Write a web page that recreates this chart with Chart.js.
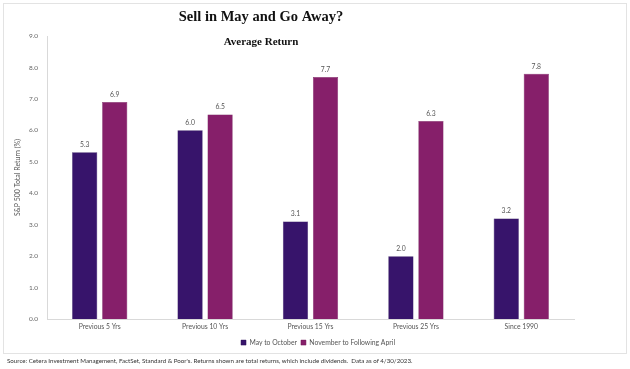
<!DOCTYPE html>
<html>
<head>
<meta charset="utf-8">
<script src="https://cdn.jsdelivr.net/npm/chart.js@4.4.0/dist/chart.umd.min.js"></script>
<style>
  html, body { margin: 0; padding: 0; background: #fff; }
  body { width: 630px; height: 369px; position: relative; overflow: hidden; }
  #frame { position: absolute; left: 3px; top: 3px; width: 622px; height: 349px; border: 1px solid #e3e3e3; }
  #wrap { position: absolute; left: 0; top: 0; width: 630px; height: 358px; }
  #source { position: absolute; left: 7px; top: 357px; font-family: Lato, "Liberation Sans", sans-serif; font-size: 6.2px; color: #333; white-space: nowrap; }
</style>
</head>
<body>
<div id="frame"></div>
<div id="wrap"><canvas id="c" width="630" height="358"></canvas></div>
<div id="source">Source: Cetera Investment Management, FactSet, Standard &amp; Poor's. Returns shown are total returns, which include dividends.&nbsp; Data as of 4/30/2023.</div>
<script>
const categories = ["Previous 5 Yrs", "Previous 10 Yrs", "Previous 15 Yrs", "Previous 25 Yrs", "Since 1990"];
const mayToOctober = [5.3, 6.0, 3.1, 2.0, 3.2];
const novToApril = [6.9, 6.5, 7.7, 6.3, 7.8];
const seriesNames = ["May to October", "November to Following April"];
const yTicks = [0, 1, 2, 3, 4, 5, 6, 7, 8, 9];

const FONT = 'Lato, "Liberation Sans", sans-serif';

const titlePlugin = {
  id: 'titles',
  afterDraw(chart) {
    const ctx = chart.ctx;
    ctx.save();
    ctx.fillStyle = '#111';
    ctx.textAlign = 'center';
    ctx.textBaseline = 'middle';
    ctx.font = 'bold 14.5px "Liberation Serif", serif';
    ctx.fillText('Sell in May and Go Away?', 261, 17);
    ctx.font = 'bold 11px "Liberation Serif", serif';
    ctx.fillText('Average Return', 261, 42);
    ctx.restore();
  }
};

const legendShift = {
  id: 'legendShift',
  afterLayout(chart) {
    const lg = chart.legend;
    if (lg) { lg.left += 24; lg.right += 24; }
  }
};

const labelPlugin = {
  id: 'valueLabels',
  afterDatasetsDraw(chart) {
    const ctx = chart.ctx;
    ctx.save();
    ctx.fillStyle = '#555';
    ctx.font = '6.8px ' + FONT;
    ctx.textAlign = 'center';
    ctx.textBaseline = 'bottom';
    chart.data.datasets.forEach((ds, i) => {
      chart.getDatasetMeta(i).data.forEach((bar, j) => {
        ctx.fillText(ds.data[j].toFixed(1), bar.x, bar.y - 4);
      });
    });
    ctx.restore();
  }
};

new Chart(document.getElementById('c'), {
  type: 'bar',
  data: {
    labels: categories,
    datasets: [
      { label: seriesNames[0], data: mayToOctober, backgroundColor: '#37146B', borderColor: '#2a0f55', borderWidth: 0.5 },
      { label: seriesNames[1], data: novToApril, backgroundColor: '#861F6A', borderColor: '#6e1856', borderWidth: 0.5 }
    ]
  },
  options: {
    responsive: false,
    animation: false,
    devicePixelRatio: 1,
    layout: { padding: { top: 36, right: 56, left: 14, bottom: 2 } },
    datasets: { bar: { categoryPercentage: 0.57, barPercentage: 0.84 } },
    plugins: {
      title: { display: false },
      tooltip: { enabled: false },
      legend: {
        display: true,
        position: 'bottom',
        labels: {
          boxWidth: 5, boxHeight: 5, padding: 4,
          color: '#555',
          font: { family: FONT, size: 6.8 }
        }
      }
    },
    scales: {
      x: {
        grid: { display: false, drawTicks: false },
        border: { color: '#d9d9d9' },
        ticks: { color: '#555', padding: 4, font: { family: FONT, size: 6.8 } }
      },
      y: {
        min: 0, max: 9,
        afterBuildTicks(axis) { axis.ticks = yTicks.map(v => ({ value: v })); },
        afterFit(axis) { axis.width = 33; },
        grid: { display: false, drawTicks: false },
        border: { color: '#d9d9d9' },
        ticks: {
          color: '#666', padding: 9,
          font: { family: FONT, size: 6.5 },
          callback: v => Number(v).toFixed(1)
        },
        title: {
          display: true, text: 'S&P 500 Total Return (%)', color: '#555',
          font: { family: FONT, size: 7 },
          padding: { top: 0, bottom: 0 }
        }
      }
    }
  },
  plugins: [titlePlugin, labelPlugin, legendShift]
});
</script>
</body>
</html>
